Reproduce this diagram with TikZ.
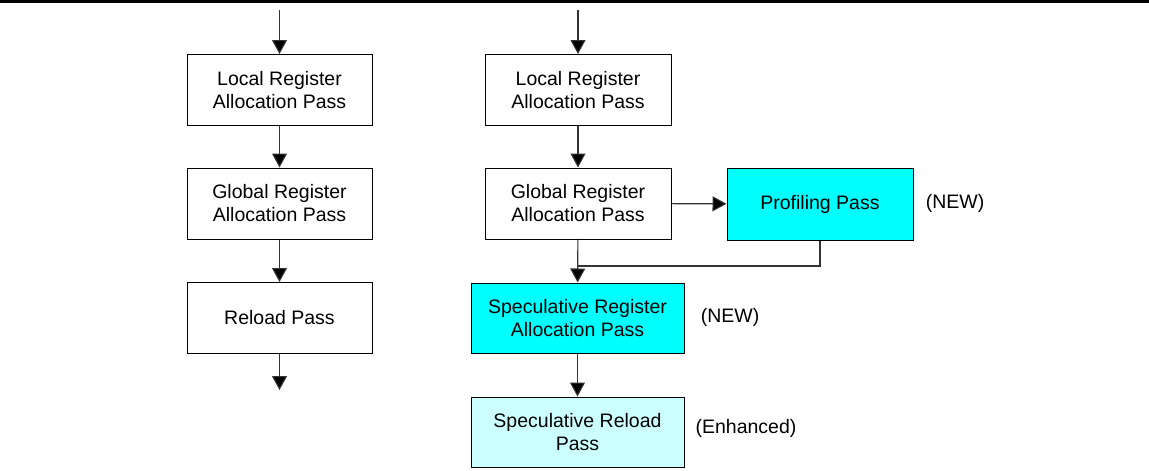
\documentclass[tikz,border=0pt]{standalone}
\usepackage{fontspec}
\setmainfont{Liberation Sans}
\usetikzlibrary{arrows.meta}
\definecolor{newcyan}{RGB}{0,255,255}
\definecolor{enhcyan}{RGB}{204,255,255}
\begin{document}
\begin{tikzpicture}[x=1pt,y=-1pt,
  box/.style={draw=black, line width=1pt, fill=white, align=center, inner sep=0pt,
    font=\fontsize{19.5pt}{23pt}\selectfont},
  lbox/.style={box, minimum width=185pt, minimum height=71pt},
  rbox/.style={box, minimum width=186pt, minimum height=71pt},
  sbox/.style={box, minimum width=213pt, minimum height=70pt},
  conn/.style={draw=black!80, line width=1.1pt},
  arr/.style={conn, -{Triangle[length=14pt,width=15pt,fill=black]}},
  note/.style={font=\fontsize{19.5pt}{23pt}\selectfont, inner sep=0pt}]
\useasboundingbox (0,0) rectangle (1149,471);
\fill[white] (0,0) rectangle (1149,471);
\draw[line width=3.5pt] (0,1.5) -- (1149,1.5);
% left column
\coordinate (lin) at (279.5,10);
\node[lbox] (l1) at (279.5,90) {Local Register\\Allocation Pass};
\node[lbox] (l2) at (279.5,203.5) {Global Register\\Allocation Pass};
\node[lbox] (l3) at (279.5,318) {Reload Pass};
\coordinate (lout) at (279.5,390);
\draw[arr] (lin) -- (l1);
\draw[arr] (l1) -- (l2);
\draw[arr] (l2) -- (l3);
\draw[arr] (l3) -- (lout);
% right column
\coordinate (rin) at (578,10);
\node[rbox] (r1) at (578,90) {Local Register\\Allocation Pass};
\node[rbox] (r2) at (578,203.5) {Global Register\\Allocation Pass};
\node[box, fill=newcyan, minimum width=186pt, minimum height=72pt] (pp) at (820,204) {Profiling Pass};
\node[sbox, fill=newcyan] (s1) at (577.5,318) {Speculative Register\\Allocation Pass};
\node[sbox, fill=enhcyan] (s2) at (577.5,432) {Speculative Reload\\Pass};
\coordinate (join) at (578,266);
\draw[arr] (rin) -- (r1);
\draw[arr] (r1) -- (r2);
\draw[arr] (r2) -- (pp);
\draw[arr] (r2) -- (s1);
\draw[conn] (pp.south) |- (join);
\draw[arr] (s1) -- (s2);
% notes
\node[note] (n1) at (955,203) {(NEW)};
\node[note] (n2) at (730,317) {(NEW)};
\node[note] (n3) at (746,428) {(Enhanced)};
\end{tikzpicture}
\end{document}
